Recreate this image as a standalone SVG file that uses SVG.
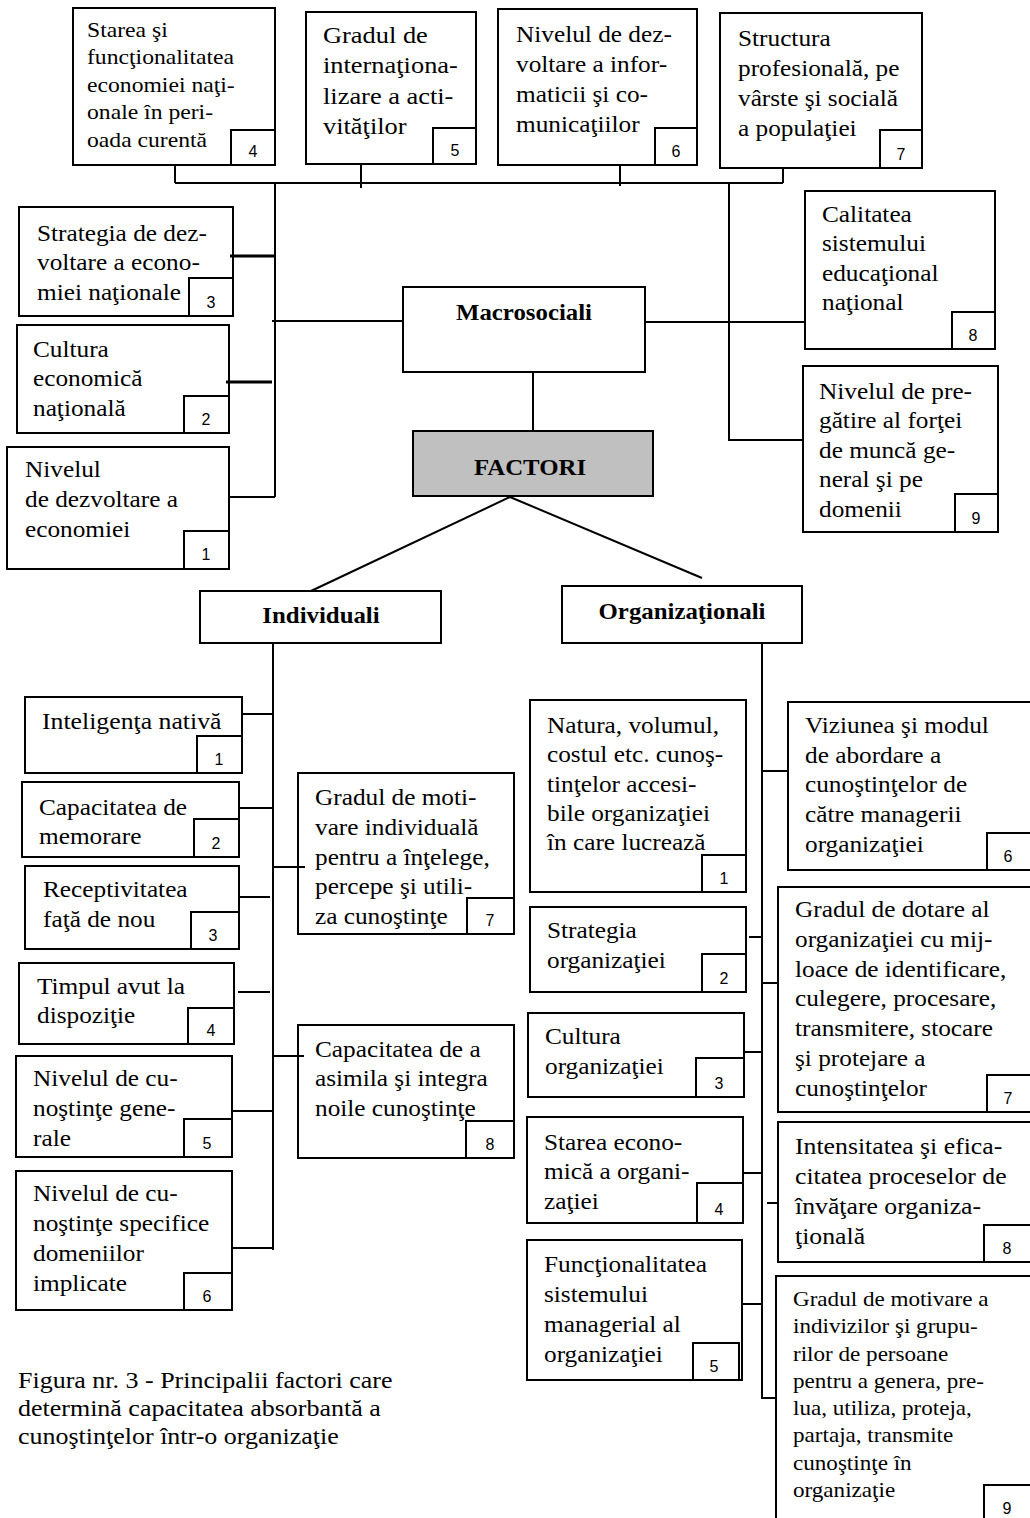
<svg xmlns="http://www.w3.org/2000/svg" width="1030" height="1518" viewBox="0 0 1030 1518">
<style>
.b{fill:#fff;stroke:#000;stroke-width:2}
.g{fill:#c0c0c0;stroke:#000;stroke-width:2}
.t{font-family:"Liberation Serif","Times New Roman",serif;font-size:23px;fill:#000}
.h{font-family:"Liberation Serif","Times New Roman",serif;font-size:23px;font-weight:bold;fill:#000;text-anchor:middle}
.n{font-family:"Liberation Sans",Arial,sans-serif;font-size:16px;fill:#000;text-anchor:middle}
.c{fill:none;stroke:#000;stroke-width:2}
.k{fill:none;stroke:#000;stroke-width:3}
</style>
<rect width="1030" height="1518" fill="#fff"/>

<g id="m4">
<rect class="b" x="73" y="8" width="202" height="157"/>
<rect class="b" x="231" y="130" width="44" height="35"/>
<text class="t" style="font-size:21.5px" transform="translate(87 37) scale(1.1 1)"><tspan x="0" y="0">Starea şi</tspan><tspan x="0" y="27.5">funcţionalitatea</tspan><tspan x="0" y="55">economiei naţi-</tspan><tspan x="0" y="82.5">onale în peri-</tspan><tspan x="0" y="110">oada curentă</tspan></text>
<text class="n" x="253" y="157">4</text>
</g>
<g id="m5">
<rect class="b" x="306" y="12" width="170" height="152"/>
<rect class="b" x="433" y="128" width="43" height="36"/>
<text class="t" style="font-size:24px" transform="translate(323 43) scale(1.1 1)"><tspan x="0" y="0">Gradul de</tspan><tspan x="0" y="30.3">internaţiona-</tspan><tspan x="0" y="60.6">lizare a acti-</tspan><tspan x="0" y="90.9">vităţilor</tspan></text>
<text class="n" x="455" y="156">5</text>
</g>
<g id="m6">
<rect class="b" x="498" y="9" width="199" height="156"/>
<rect class="b" x="655" y="128" width="42" height="37"/>
<text class="t" transform="translate(516 42) scale(1.1 1)"><tspan x="0" y="0">Nivelul de dez-</tspan><tspan x="0" y="30">voltare a infor-</tspan><tspan x="0" y="60">maticii şi co-</tspan><tspan x="0" y="90">municaţiilor</tspan></text>
<text class="n" x="676" y="157">6</text>
</g>
<g id="m7">
<rect class="b" x="720" y="13" width="202" height="155"/>
<rect class="b" x="880" y="130" width="42" height="38"/>
<text class="t" transform="translate(738 46) scale(1.1 1)"><tspan x="0" y="0">Structura</tspan><tspan x="0" y="30">profesională, pe</tspan><tspan x="0" y="60">vârste şi socială</tspan><tspan x="0" y="90">a populaţiei</tspan></text>
<text class="n" x="901" y="160">7</text>
</g>
<g id="m3">
<rect class="b" x="19" y="207" width="214" height="109"/>
<rect class="b" x="189" y="278" width="44" height="38"/>
<text class="t" transform="translate(37 241) scale(1.1 1)"><tspan x="0" y="0">Strategia de dez-</tspan><tspan x="0" y="29.5">voltare  a econo-</tspan><tspan x="0" y="59">miei naţionale</tspan></text>
<text class="n" x="211" y="308">3</text>
</g>
<g id="m2">
<rect class="b" x="17" y="325" width="212" height="108"/>
<rect class="b" x="184" y="396" width="45" height="37"/>
<text class="t" transform="translate(33 357) scale(1.1 1)"><tspan x="0" y="0">Cultura</tspan><tspan x="0" y="29.5">economică</tspan><tspan x="0" y="59">naţională</tspan></text>
<text class="n" x="206" y="425">2</text>
</g>
<g id="m1">
<rect class="b" x="7" y="447" width="222" height="122"/>
<rect class="b" x="184" y="531" width="45" height="38"/>
<text class="t" transform="translate(25 477) scale(1.1 1)"><tspan x="0" y="0">Nivelul</tspan><tspan x="0" y="30">de dezvoltare a</tspan><tspan x="0" y="60">economiei</tspan></text>
<text class="n" x="206" y="560">1</text>
</g>
<g id="macro">
<rect class="b" x="403" y="287" width="242" height="85"/>
<text class="h" transform="translate(524 320) scale(1.08 1)" x="0" y="0">Macrosociali</text>
</g>
<g id="factori">
<rect class="g" x="413" y="431" width="240" height="65"/>
<text class="h" transform="translate(530 475) scale(1.08 1)" x="0" y="0">FACTORI</text>
</g>
<g id="m8">
<rect class="b" x="805" y="191" width="190" height="158"/>
<rect class="b" x="952" y="312" width="43" height="37"/>
<text class="t" transform="translate(822 222) scale(1.1 1)"><tspan x="0" y="0">Calitatea</tspan><tspan x="0" y="29.5">sistemului</tspan><tspan x="0" y="59">educaţional</tspan><tspan x="0" y="88.5">naţional</tspan></text>
<text class="n" x="973" y="341">8</text>
</g>
<g id="m9">
<rect class="b" x="803" y="366" width="195" height="166"/>
<rect class="b" x="955" y="494" width="43" height="38"/>
<text class="t" transform="translate(819 399) scale(1.1 1)"><tspan x="0" y="0">Nivelul de pre-</tspan><tspan x="0" y="29.5">gătire al forţei</tspan><tspan x="0" y="59">de muncă ge-</tspan><tspan x="0" y="88.5">neral şi pe</tspan><tspan x="0" y="118">domenii</tspan></text>
<text class="n" x="976" y="524">9</text>
</g>
<g id="individuali">
<rect class="b" x="200" y="591" width="241" height="52"/>
<text class="h" transform="translate(321 623) scale(1.08 1)" x="0" y="0">Individuali</text>
</g>
<g id="organizationali">
<rect class="b" x="562" y="586" width="240" height="57"/>
<text class="h" transform="translate(682 619) scale(1.08 1)" x="0" y="0">Organizaţionali</text>
</g>
<g id="i1">
<rect class="b" x="25" y="697" width="217" height="76"/>
<rect class="b" x="197" y="736" width="45" height="37"/>
<text class="t" transform="translate(42 729) scale(1.12 1)"><tspan x="0" y="0">Inteligenţa nativă</tspan></text>
<text class="n" x="219" y="765">1</text>
</g>
<g id="i2">
<rect class="b" x="22" y="782" width="217" height="75"/>
<rect class="b" x="194" y="819" width="45" height="38"/>
<text class="t" transform="translate(39 815) scale(1.1 1)"><tspan x="0" y="0">Capacitatea de</tspan><tspan x="0" y="29.5">memorare</tspan></text>
<text class="n" x="216" y="849">2</text>
</g>
<g id="i3">
<rect class="b" x="25" y="866" width="214" height="83"/>
<rect class="b" x="191" y="912" width="48" height="37"/>
<text class="t" transform="translate(43 897) scale(1.1 1)"><tspan x="0" y="0">Receptivitatea</tspan><tspan x="0" y="30">faţă de nou</tspan></text>
<text class="n" x="213" y="941">3</text>
</g>
<g id="i7">
<rect class="b" x="298" y="773" width="216" height="161"/>
<rect class="b" x="467" y="898" width="47" height="36"/>
<text class="t" transform="translate(315 805) scale(1.1 1)"><tspan x="0" y="0">Gradul de moti-</tspan><tspan x="0" y="29.8">vare individuală</tspan><tspan x="0" y="59.6">pentru a înţelege,</tspan><tspan x="0" y="89.4">percepe şi utili-</tspan><tspan x="0" y="119.2">za cunoştinţe</tspan></text>
<text class="n" x="490" y="926">7</text>
</g>
<g id="i4">
<rect class="b" x="19" y="963" width="215" height="81"/>
<rect class="b" x="188" y="1008" width="46" height="36"/>
<text class="t" transform="translate(37 994) scale(1.1 1)"><tspan x="0" y="0">Timpul avut la</tspan><tspan x="0" y="29.5">dispoziţie</tspan></text>
<text class="n" x="211" y="1036">4</text>
</g>
<g id="i8">
<rect class="b" x="298" y="1025" width="216" height="133"/>
<rect class="b" x="466" y="1121" width="48" height="37"/>
<text class="t" transform="translate(315 1057) scale(1.1 1)"><tspan x="0" y="0">Capacitatea de a</tspan><tspan x="0" y="29.5">asimila şi integra</tspan><tspan x="0" y="59">noile cunoştinţe</tspan></text>
<text class="n" x="490" y="1150">8</text>
</g>
<g id="i5">
<rect class="b" x="16" y="1056" width="216" height="101"/>
<rect class="b" x="184" y="1119" width="48" height="38"/>
<text class="t" transform="translate(33 1086) scale(1.1 1)"><tspan x="0" y="0">Nivelul de cu-</tspan><tspan x="0" y="30">noştinţe gene-</tspan><tspan x="0" y="60">rale</tspan></text>
<text class="n" x="207" y="1149">5</text>
</g>
<g id="i6">
<rect class="b" x="16" y="1171" width="216" height="139"/>
<rect class="b" x="184" y="1273" width="48" height="37"/>
<text class="t" transform="translate(33 1201) scale(1.1 1)"><tspan x="0" y="0">Nivelul de cu-</tspan><tspan x="0" y="30">noştinţe specifice</tspan><tspan x="0" y="60">domeniilor</tspan><tspan x="0" y="90">implicate</tspan></text>
<text class="n" x="207" y="1302">6</text>
</g>
<g id="o1">
<rect class="b" x="530" y="700" width="216" height="192"/>
<rect class="b" x="702" y="855" width="44" height="37"/>
<text class="t" transform="translate(547 733) scale(1.1 1)"><tspan x="0" y="0">Natura, volumul,</tspan><tspan x="0" y="29.3">costul etc. cunoş-</tspan><tspan x="0" y="58.6">tinţelor  accesi-</tspan><tspan x="0" y="87.9">bile organizaţiei</tspan><tspan x="0" y="117.2">în care lucrează</tspan></text>
<text class="n" x="724" y="884">1</text>
</g>
<g id="o2">
<rect class="b" x="530" y="907" width="216" height="85"/>
<rect class="b" x="702" y="954" width="44" height="38"/>
<text class="t" transform="translate(547 938) scale(1.1 1)"><tspan x="0" y="0">Strategia</tspan><tspan x="0" y="30">organizaţiei</tspan></text>
<text class="n" x="724" y="984">2</text>
</g>
<g id="o3">
<rect class="b" x="528" y="1013" width="216" height="84"/>
<rect class="b" x="696" y="1058" width="48" height="39"/>
<text class="t" transform="translate(545 1044) scale(1.1 1)"><tspan x="0" y="0">Cultura</tspan><tspan x="0" y="30">organizaţiei</tspan></text>
<text class="n" x="719" y="1089">3</text>
</g>
<g id="o4">
<rect class="b" x="527" y="1117" width="216" height="106"/>
<rect class="b" x="697" y="1183" width="46" height="40"/>
<text class="t" transform="translate(544 1150) scale(1.1 1)"><tspan x="0" y="0">Starea econo-</tspan><tspan x="0" y="29.5">mică a organi-</tspan><tspan x="0" y="59">zaţiei</tspan></text>
<text class="n" x="719" y="1215">4</text>
</g>
<g id="o5">
<rect class="b" x="527" y="1240" width="215" height="140"/>
<rect class="b" x="693" y="1343" width="46" height="37"/>
<text class="t" transform="translate(544 1272) scale(1.1 1)"><tspan x="0" y="0">Funcţionalitatea</tspan><tspan x="0" y="30">sistemului</tspan><tspan x="0" y="60">managerial al</tspan><tspan x="0" y="90">organizaţiei</tspan></text>
<text class="n" x="714" y="1372">5</text>
</g>
<g id="o6">
<rect class="b" x="788" y="702" width="260" height="168"/>
<rect class="b" x="987" y="833" width="60" height="37"/>
<text class="t" transform="translate(805 733) scale(1.1 1)"><tspan x="0" y="0">Viziunea şi modul</tspan><tspan x="0" y="29.7">de abordare a</tspan><tspan x="0" y="59.4">cunoştinţelor de</tspan><tspan x="0" y="89.1">către managerii</tspan><tspan x="0" y="118.8">organizaţiei</tspan></text>
<text class="n" x="1008" y="862">6</text>
</g>
<g id="o7">
<rect class="b" x="778" y="887" width="270" height="225"/>
<rect class="b" x="987" y="1075" width="60" height="37"/>
<text class="t" transform="translate(795 917) scale(1.1 1)"><tspan x="0" y="0">Gradul de dotare al</tspan><tspan x="0" y="29.8">organizaţiei cu mij-</tspan><tspan x="0" y="59.6">loace de identificare,</tspan><tspan x="0" y="89.4">culegere, procesare,</tspan><tspan x="0" y="119.2">transmitere, stocare</tspan><tspan x="0" y="149">şi protejare a</tspan><tspan x="0" y="178.8">cunoştinţelor</tspan></text>
<text class="n" x="1008" y="1104">7</text>
</g>
<g id="o8">
<rect class="b" x="778" y="1122" width="270" height="140"/>
<rect class="b" x="984" y="1225" width="60" height="37"/>
<text class="t" transform="translate(795 1154) scale(1.12 1)"><tspan x="0" y="0">Intensitatea şi efica-</tspan><tspan x="0" y="30">citatea proceselor de</tspan><tspan x="0" y="60">învăţare organiza-</tspan><tspan x="0" y="90">ţională</tspan></text>
<text class="n" x="1007" y="1254">8</text>
</g>
<g id="o9">
<rect class="b" x="776" y="1276" width="272" height="260"/>
<rect class="b" x="984" y="1485" width="60" height="45"/>
<text class="t" style="font-size:21px" transform="translate(793 1306) scale(1.1 1)"><tspan x="0" y="0">Gradul de motivare a</tspan><tspan x="0" y="27.3">indivizilor şi grupu-</tspan><tspan x="0" y="54.6">rilor de persoane</tspan><tspan x="0" y="81.9">pentru a genera, pre-</tspan><tspan x="0" y="109.2">lua, utiliza, proteja,</tspan><tspan x="0" y="136.5">partaja, transmite</tspan><tspan x="0" y="163.8">cunoştinţe în</tspan><tspan x="0" y="191.1">organizaţie</tspan></text>
<text class="n" x="1007" y="1514">9</text>
</g>
<g id="caption">
<text class="t" transform="translate(18 1388) scale(1.13 1)"><tspan x="0" y="0">Figura nr. 3 - Principalii factori care</tspan><tspan x="0" y="28">determină capacitatea absorbantă a</tspan><tspan x="0" y="56">cunoştinţelor într-o organizaţie</tspan></text>
</g>

<g id="connectors">
<path class="c" d="M175 183H783M175 165V183M361 164V188M620 165V186M783 168V183"/>
<path class="c" d="M275 183V497M729 183V440H803"/>
<path class="k" d="M230 256H275M226 382H272"/>
<path class="c" d="M272 321H403M229 497H275M533 372V431M645 322H805"/>
<path class="c" d="M510 497L311 591M510 497L702 578"/>
<path class="c" d="M273 643V1250M242 714H273M239 808H273M239 897H270M273 867H305M238 992H270M273 1056H304M232 1111H273M232 1248H273"/>
<path class="c" d="M762 643V1398H776M762 771H788M749 937H762M762 983H778M744 1052H762M743 1173H762M767 1203H778M742 1304H762"/>
</g>
</svg>
